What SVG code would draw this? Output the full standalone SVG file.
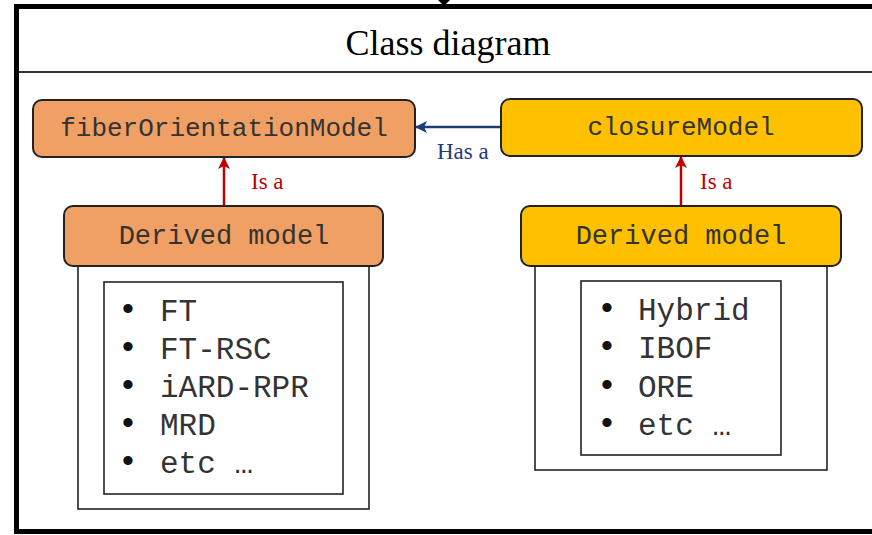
<svg xmlns="http://www.w3.org/2000/svg" width="872" height="535" viewBox="0 0 872 535">
<defs>
<style>
.cls{stroke:#222;stroke-width:2}
.orange{fill:#F0A064}
.yellow{fill:#FFC000}
.mono{font-family:"Liberation Mono","Courier New",monospace;fill:#333}
.serif{font-family:"Liberation Serif","Times New Roman",serif}
.list{fill:#fff;stroke:#222;stroke-width:1.6}
.bul{font-family:"Liberation Sans",Arial,sans-serif;font-size:34px;fill:#111;text-anchor:middle}
.isa{stroke:#C00000;stroke-width:2.5;fill:none}
</style>
<marker id="redHead" viewBox="0 0 12 12" refX="11" refY="6" markerWidth="12" markerHeight="12" markerUnits="userSpaceOnUse" orient="auto">
<path d="M0,0 L12,6 L0,12 L3,6 z" fill="#C00000"/>
</marker>
<marker id="blueHead" viewBox="0 0 12 12" refX="11" refY="6" markerWidth="12" markerHeight="12" markerUnits="userSpaceOnUse" orient="auto">
<path d="M0,0 L12,6 L0,12 L3,6 z" fill="#1F3A78"/>
</marker>
</defs>
<rect x="0" y="0" width="872" height="535" fill="#fff"/>
<g id="frame">
<rect x="16.5" y="6.5" width="870" height="525" fill="#fff" stroke="#000" stroke-width="5"/>
<polygon points="438,0 450,0 444,6" fill="#000"/>
<line x1="19" y1="72" x2="872" y2="72" stroke="#333" stroke-width="2"/>
<text x="448" y="55" class="serif" font-size="36" text-anchor="middle" fill="#000">Class diagram</text>
</g>
<g id="connectors">
<line x1="224" y1="206" x2="224" y2="158" class="isa" marker-end="url(#redHead)"/>
<text x="251" y="189" class="serif" font-size="23" fill="#C00000">Is a</text>
<line x1="681" y1="206" x2="681" y2="157" class="isa" marker-end="url(#redHead)"/>
<text x="700" y="189" class="serif" font-size="23" fill="#C00000">Is a</text>
<line x1="500" y1="127" x2="416" y2="127" stroke="#1F3A78" stroke-width="2.5" marker-end="url(#blueHead)"/>
<text x="437" y="159" class="serif" font-size="23" fill="#1F3A78">Has a</text>
</g>
<g id="fiberOrientationModel">
<rect x="33" y="100" width="382" height="57" rx="9" class="cls orange"/>
<text x="224" y="136" class="mono" font-size="26" text-anchor="middle">fiberOrientationModel</text>
</g>
<g id="closureModel">
<rect x="501" y="99" width="361" height="57" rx="9" class="cls yellow"/>
<text x="681" y="135" class="mono" font-size="26" text-anchor="middle">closureModel</text>
</g>
<g id="derivedLeft">
<rect x="78" y="258" width="291" height="251" class="list"/>
<rect x="104" y="282" width="239" height="212" class="list"/>
<rect x="64" y="206" width="319" height="60" rx="9" class="cls orange"/>
<text x="224" y="244" class="mono" font-size="27" text-anchor="middle">Derived model</text>
<g class="mono" font-size="31">
<text x="160" y="321">FT</text>
<text x="160" y="359">FT-RSC</text>
<text x="160" y="397">iARD-RPR</text>
<text x="160" y="435">MRD</text>
<text x="160" y="473">etc …</text>
</g>
<text x="128" y="320" class="bul">•</text>
<text x="128" y="358" class="bul">•</text>
<text x="128" y="396" class="bul">•</text>
<text x="128" y="434" class="bul">•</text>
<text x="128" y="472" class="bul">•</text>
</g>
<g id="derivedRight">
<rect x="535" y="258" width="292" height="212" class="list"/>
<rect x="581" y="281" width="200" height="174" class="list"/>
<rect x="521" y="206" width="320" height="60" rx="9" class="cls yellow"/>
<text x="681" y="244" class="mono" font-size="27" text-anchor="middle">Derived model</text>
<g class="mono" font-size="31">
<text x="638" y="320">Hybrid</text>
<text x="638" y="358">IBOF</text>
<text x="638" y="397">ORE</text>
<text x="638" y="435">etc …</text>
</g>
<text x="607" y="319" class="bul">•</text>
<text x="607" y="357" class="bul">•</text>
<text x="607" y="396" class="bul">•</text>
<text x="607" y="434" class="bul">•</text>
</g>
</svg>
